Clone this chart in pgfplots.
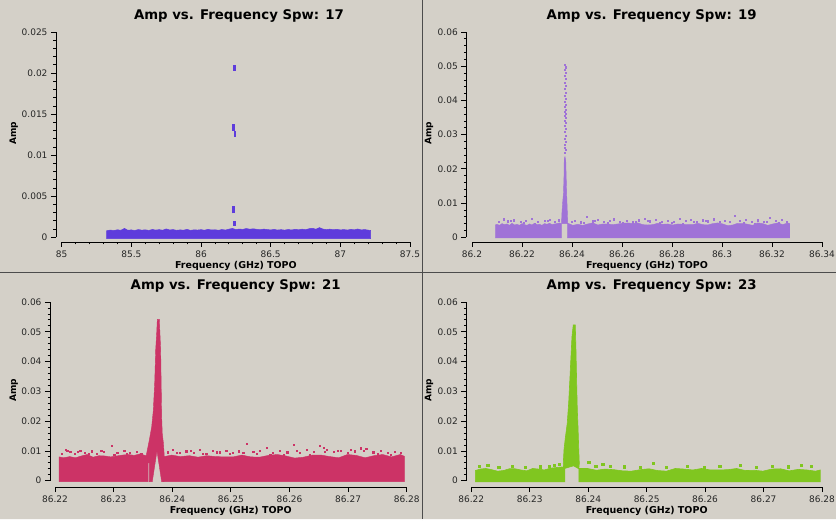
\documentclass[border=0pt]{standalone}
\usepackage{fontspec}
\setmainfont{DejaVu Sans}
\usepackage{pgfplots}
\pgfplotsset{compat=1.18}
\definecolor{bg}{RGB}{212,208,200}
\definecolor{cA}{RGB}{94,60,220}
\definecolor{cB}{RGB}{160,115,215}
\definecolor{cC}{RGB}{204,51,102}
\definecolor{cD}{RGB}{128,198,32}
\pgfplotsset{
  spw/.style={
    scale only axis, clip=false,
    axis x line=bottom, axis y line=left,
    axis line style={-, black, line width=0.8pt},
    tick style={black, line width=0.8pt},
    tick align=outside,
    major tick length=5pt, minor tick length=2.5pt,
    scaled ticks=false,
    /pgf/number format/assume math mode=true,
    /pgf/number format/fixed,
    /pgf/number format/precision=3,
    tick label style={font=\fontsize{9}{10}\selectfont, text=black!85},
    minor y tick num=4,
  },
  narrow/.style={
    x coord trafo/.code={\pgfmathparse{(##1-86.2)*1000}},
    xmin=86.22, xmax=86.28,
    xtick={86.22,86.23,86.24,86.25,86.26,86.27,86.28},
    xticklabels={86.22,86.23,86.24,86.25,86.26,86.27,86.28},
    minor x tick num=4,
    ymin=0, ymax=0.06,
    ytick={0,0.01,0.02,0.03,0.04,0.05,0.06},
    yticklabels={0,0.01,0.02,0.03,0.04,0.05,0.06},
  },
}
\begin{document}
\begin{tikzpicture}[x=1pt,y=1pt]
\useasboundingbox (0pt,0pt) rectangle (836pt,520pt);
\fill[bg] (0pt,0pt) rectangle (836pt,520pt);
\draw[black!70, line width=1.5pt] (422.5pt,0pt) -- (422.5pt,520pt);
\draw[black!70, line width=1.5pt] (0pt,247.5pt) -- (836pt,247.5pt);
\draw[white!85!bg, line width=1pt] (0pt,1pt) -- (836pt,1pt);

% ---------------- Panel 1 : Spw 17
\begin{axis}[spw, at={(61.7pt,282.7pt)}, anchor=south west,
  width=348.3pt, height=205.3pt,
  x coord trafo/.code={\pgfmathparse{(#1-85)*100}},
  xmin=85, xmax=87.5, ymin=0, ymax=0.025,
  axis x line shift=4.7pt, axis y line shift=5.7pt,
  xtick={85,85.5,86,86.5,87,87.5}, xticklabels={85,85.5,86,86.5,87,87.5},
  minor x tick num=4,
  ytick={0,0.005,0.01,0.015,0.02,0.025}, yticklabels={0,0.005,0.01,0.015,0.02,0.025}]
\addplot[fill=cA, draw=cA, line width=0.5pt] coordinates {
(85.323,-0.00015) (85.323,0.00080) (85.35,0.00088) (85.375,0.00082) (85.40,0.00092) (85.425,0.00085) (85.45,0.00108) (85.475,0.00086) (85.50,0.00090) (85.525,0.00083) (85.55,0.00094) (85.575,0.00087) (85.60,0.00091) (85.625,0.00084) (85.65,0.00095) (85.675,0.00088) (85.70,0.00093) (85.725,0.00086) (85.75,0.00102) (85.775,0.00089) (85.80,0.00094) (85.825,0.00085) (85.85,0.00090) (85.875,0.00087) (85.90,0.00096) (85.925,0.00084) (85.95,0.00091) (85.975,0.00088) (86.00,0.00093) (86.025,0.00086) (86.05,0.00097) (86.075,0.00089) (86.10,0.00092) (86.125,0.00085) (86.15,0.00095) (86.175,0.00088) (86.20,0.00099) (86.225,0.00108) (86.25,0.00094) (86.275,0.00101) (86.30,0.00096) (86.325,0.00107) (86.35,0.00098) (86.375,0.00104) (86.40,0.00097) (86.425,0.00092) (86.45,0.00100) (86.475,0.00094) (86.50,0.00090) (86.525,0.00096) (86.55,0.00088) (86.575,0.00093) (86.60,0.00087) (86.625,0.00095) (86.65,0.00089) (86.675,0.00097) (86.70,0.00091) (86.725,0.00099) (86.75,0.00093) (86.775,0.00104) (86.80,0.00110) (86.825,0.00098) (86.85,0.00118) (86.875,0.00100) (86.90,0.00094) (86.925,0.00099) (86.95,0.00092) (86.975,0.00097) (87.00,0.00090) (87.025,0.00094) (87.05,0.00088) (87.075,0.00096) (87.10,0.00091) (87.125,0.00101) (87.15,0.00090) (87.175,0.00094) (87.20,0.00087) (87.218,0.00083) (87.218,-0.00015)} -- cycle;
\addplot[cA, line width=2.6pt] coordinates {(86.2390,0.0203) (86.2390,0.0210)};
\addplot[cA, line width=2.6pt] coordinates {(86.2315,0.0130) (86.2315,0.01376)};
\addplot[cA, line width=2.6pt] coordinates {(86.2437,0.01225) (86.2437,0.0130)};
\addplot[cA, line width=2.6pt] coordinates {(86.2340,0.00292) (86.2340,0.00385)};
\addplot[cA, line width=2.6pt] coordinates {(86.2410,0.00138) (86.2410,0.00202)};
\end{axis}

% ---------------- Panel 2 : Spw 19
\begin{axis}[spw, at={(472pt,282.7pt)}, anchor=south west,
  width=350pt, height=205.3pt,
  x coord trafo/.code={\pgfmathparse{(#1-86.2)*1000}},
  xmin=86.2, xmax=86.34, ymin=0, ymax=0.06,
  axis x line shift=4.7pt, axis y line shift=5.7pt,
  xtick={86.2,86.22,86.24,86.26,86.28,86.3,86.32,86.34},
  xticklabels={86.2,86.22,86.24,86.26,86.28,86.3,86.32,86.34},
  minor x tick num=3,
  ytick={0,0.01,0.02,0.03,0.04,0.05,0.06},
  yticklabels={0,0.01,0.02,0.03,0.04,0.05,0.06}]
\addplot[fill=cB, draw=cB, line width=0.4pt] coordinates {
(86.2093,-0.0002) (86.2093,0.0036) (86.2100,0.0038) (86.2110,0.0035) (86.2120,0.0040) (86.2130,0.0037) (86.2140,0.0039) (86.2150,0.0035) (86.2160,0.0041) (86.2170,0.0036) (86.2180,0.0038) (86.2190,0.0035) (86.2200,0.0040) (86.2210,0.0037) (86.2220,0.0035) (86.2230,0.0039) (86.2240,0.0036) (86.2250,0.0041) (86.2260,0.0037) (86.2270,0.0038) (86.2280,0.0035) (86.2290,0.0040) (86.2300,0.0038) (86.2310,0.0041) (86.2320,0.0037) (86.2330,0.0039) (86.2340,0.0040) (86.2350,0.0042) (86.2358,0.0040) (86.2358,-0.0002)} -- cycle;
\addplot[fill=cB, draw=cB, line width=0.4pt] coordinates {
(86.2381,-0.0002) (86.2381,0.0042) (86.2403,0.0035) (86.2423,0.0038) (86.2443,0.0035) (86.2463,0.0039) (86.2483,0.0042) (86.2503,0.0036) (86.2523,0.0039) (86.2543,0.0039) (86.2563,0.0037) (86.2583,0.0039) (86.2603,0.0041) (86.2623,0.0042) (86.2643,0.0040) (86.2663,0.0042) (86.2683,0.0037) (86.2703,0.0036) (86.2723,0.0037) (86.2743,0.0041) (86.2763,0.0038) (86.2783,0.0039) (86.2803,0.0036) (86.2823,0.0039) (86.2843,0.0038) (86.2863,0.0037) (86.2883,0.0037) (86.2903,0.0041) (86.2923,0.0037) (86.2943,0.0036) (86.2963,0.0040) (86.2983,0.0042) (86.3003,0.0039) (86.3023,0.0034) (86.3043,0.0036) (86.3063,0.0041) (86.3083,0.0041) (86.3103,0.0038) (86.3123,0.0035) (86.3143,0.0042) (86.3163,0.0040) (86.3183,0.0035) (86.3203,0.0039) (86.3223,0.0042) (86.3243,0.0037) (86.3263,0.0042) (86.3271,0.0040) (86.3271,-0.0002)} -- cycle;
\addplot[fill=cB, draw=cB, line width=0.4pt] coordinates {
(86.2358,0.0040) (86.2360,0.0075) (86.2363,0.0105) (86.2366,0.0130) (86.2368,0.0180) (86.2369,0.0230) (86.2372,0.0236) (86.2375,0.0225) (86.2377,0.0170) (86.2379,0.0120) (86.2381,0.0080) (86.2383,0.0040)} -- cycle;
\addplot[only marks, mark=square*, mark size=0.55pt, color=cB] coordinates {
(86.2125,0.0053) (86.2142,0.0047) (86.2168,0.0050) (86.2195,0.0045) (86.2214,0.0049) (86.2238,0.0055) (86.2262,0.0046) (86.2289,0.0048) (86.2312,0.0052) (86.2331,0.0046) (86.2345,0.0050) (86.2412,0.0048) (86.2436,0.0044) (86.2458,0.0059) (86.2481,0.0047) (86.2503,0.0051) (86.2527,0.0045) (86.2549,0.0049) (86.2566,0.0053) (86.2592,0.0046) (86.2618,0.0048) (86.2641,0.0044) (86.2667,0.0050) (86.2689,0.0054) (86.2712,0.0047) (86.2736,0.0052) (86.2758,0.0045) (86.2781,0.0049) (86.2805,0.0046) (86.2829,0.0055) (86.2853,0.0048) (86.2876,0.0051) (86.2898,0.0045) (86.2921,0.0050) (86.2944,0.0047) (86.2968,0.0053) (86.2990,0.0046) (86.3012,0.0049) (86.3049,0.0062) (86.3071,0.0048) (86.3094,0.0051) (86.3118,0.0045) (86.3141,0.0050) (86.3166,0.0046) (86.3190,0.0057) (86.3214,0.0048) (86.3238,0.0052) (86.3259,0.0045)
(86.2105,0.00445) (86.2156,0.00472) (86.2205,0.00418) (86.2251,0.00400) (86.2302,0.00481) (86.2398,0.00463) (86.2447,0.00436) (86.2492,0.00481) (86.2541,0.00436) (86.2603,0.00436) (86.2655,0.00445) (86.2701,0.00481) (86.2749,0.00418) (86.2797,0.00427) (86.2842,0.00400) (86.2887,0.00463) (86.2933,0.00472) (86.2981,0.00409) (86.3031,0.00454) (86.3085,0.00436) (86.3130,0.00400) (86.3178,0.00454) (86.3226,0.00418)
(86.2372,0.0505) (86.2373,0.0497) (86.2371,0.0489) (86.2374,0.0480) (86.2372,0.0471) (86.2373,0.0463) (86.2371,0.0452) (86.2374,0.0444) (86.2372,0.0433) (86.2373,0.0422) (86.2371,0.0414) (86.2373,0.0405) (86.2372,0.0396) (86.2374,0.0388) (86.2371,0.0381) (86.2373,0.0374) (86.2372,0.0368) (86.2374,0.0361) (86.2371,0.0355) (86.2373,0.0349) (86.2372,0.0342) (86.2374,0.0335) (86.2371,0.0327) (86.2373,0.0318) (86.2372,0.0309) (86.2374,0.0298) (86.2371,0.0289) (86.2373,0.0280) (86.2372,0.0271) (86.2370,0.0262) (86.2375,0.0255) (86.2372,0.0247)};
\end{axis}

% ---------------- Panel 3 : Spw 21
\begin{axis}[spw, narrow, at={(55pt,39.3pt)}, anchor=south west,
  width=351.7pt, height=178.7pt,
  axis x line shift=6.5pt, axis y line shift=5pt]
\addplot[fill=cC, draw=cC, line width=0.4pt] coordinates {
(86.2207,-0.0003) (86.2207,0.0080) (86.2215,0.0077) (86.2225,0.0081) (86.2235,0.0077) (86.2245,0.0083) (86.2255,0.0088) (86.2265,0.0079) (86.2275,0.0084) (86.2285,0.0083) (86.2295,0.0080) (86.2305,0.0083) (86.2315,0.0086) (86.2325,0.0088) (86.2335,0.0085) (86.2345,0.0090) (86.2352,0.0086) (86.2359,0.0082) (86.2359,-0.0003)} -- cycle;
\addplot[fill=cC, draw=cC, line width=0.4pt] coordinates {
(86.2384,-0.0003) (86.2384,0.0080) (86.2399,0.0086) (86.2414,0.0081) (86.2429,0.0084) (86.2444,0.0079) (86.2459,0.0084) (86.2474,0.0081) (86.2489,0.0080) (86.2504,0.0080) (86.2519,0.0086) (86.2534,0.0080) (86.2549,0.0079) (86.2564,0.0085) (86.2579,0.0088) (86.2594,0.0083) (86.2609,0.0076) (86.2624,0.0079) (86.2639,0.0086) (86.2654,0.0086) (86.2669,0.0081) (86.2684,0.0077) (86.2699,0.0088) (86.2714,0.0085) (86.2729,0.0077) (86.2744,0.0084) (86.2759,0.0088) (86.2774,0.0080) (86.2789,0.0088) (86.2796,0.0082) (86.2796,-0.0003)} -- cycle;
\addplot[fill=cC, draw=cC, line width=0.4pt] coordinates {
(86.2352,0.0060) (86.23553,0.0080) (86.23575,0.0103) (86.2361,0.0137) (86.2365,0.0181) (86.23678,0.0237) (86.23701,0.0327) (86.23718,0.0439) (86.23735,0.0495) (86.23746,0.0542) (86.2378,0.0542) (86.23803,0.0439) (86.23814,0.0293) (86.2382,0.0215) (86.2383,0.0159) (86.2385,0.0126) (86.23865,0.0081) (86.2388,0.0060) (86.2386,-0.0003) (86.2382,-0.0003) (86.2374,0.0100) (86.2366,-0.0003) (86.2361,-0.0003) (86.2361,0.0060)} -- cycle;
\addplot[only marks, mark=square*, mark size=0.6pt, color=cC] coordinates {
(86.2212,0.0092) (86.2218,0.0104) (86.2226,0.0098) (86.2234,0.0091) (86.2243,0.0101) (86.2251,0.0094) (86.2262,0.0099) (86.2271,0.0092) (86.2283,0.0097) (86.2297,0.0118) (86.2306,0.0095) (86.2318,0.0100) (86.2327,0.0093) (86.2339,0.0098) (86.2347,0.0092) (86.2392,0.0096) (86.2401,0.0103) (86.2413,0.0093) (86.2424,0.0099) (86.2436,0.0095) (86.2447,0.0104) (86.2458,0.0092) (86.2469,0.0100) (86.2481,0.0096) (86.2492,0.0102) (86.2503,0.0093) (86.2514,0.0099) (86.2527,0.0123) (86.2538,0.0097) (86.2549,0.0101) (86.2561,0.0110) (86.2572,0.0094) (86.2584,0.0100) (86.2596,0.0096) (86.2607,0.0122) (86.2618,0.0095) (86.2629,0.0103) (86.2641,0.0098) (86.2652,0.0118) (86.2658,0.0112) (86.2664,0.0104) (86.2676,0.0097) (86.2688,0.0101) (86.2699,0.0094) (86.2711,0.0099) (86.2722,0.0109) (86.2731,0.0107) (86.2743,0.0096) (86.2756,0.0100) (86.2768,0.0093) (86.2779,0.0098) (86.2790,0.0095)
(86.2221,0.0102) (86.2239,0.0098) (86.2258,0.0090) (86.2279,0.0102) (86.2301,0.0086) (86.2322,0.0092) (86.2407,0.0094) (86.2431,0.0102) (86.2452,0.0090) (86.2476,0.0096) (86.2498,0.0092) (86.2521,0.0094) (86.2544,0.0090) (86.2567,0.0088) (86.2590,0.0088) (86.2612,0.0100) (86.2635,0.0086) (86.2660,0.0098) (86.2682,0.0100) (86.2705,0.0104) (86.2727,0.0102) (86.2750,0.0090) (86.2773,0.0088)};
\end{axis}

% ---------------- Panel 4 : Spw 23
\begin{axis}[spw, narrow, at={(471.3pt,39.3pt)}, anchor=south west,
  width=350.7pt, height=178.7pt,
  axis x line shift=6.5pt, axis y line shift=5pt]
\addplot[fill=cD, draw=cD, line width=0.6pt] coordinates {
(86.2207,-0.0004) (86.2207,0.0034) (86.2215,0.0039) (86.2225,0.0041) (86.2235,0.0037) (86.2245,0.0032) (86.2255,0.0034) (86.2265,0.0040) (86.2275,0.0040) (86.2285,0.0036) (86.2295,0.0033) (86.2305,0.0041) (86.2315,0.0039) (86.2325,0.0036) (86.2335,0.0042) (86.2345,0.0044) (86.2355,0.0046) (86.2360,0.0045) (86.2360,-0.0004)} -- cycle;
\addplot[fill=cD, draw=cD, line width=0.6pt] coordinates {
(86.2384,-0.0004) (86.2384,0.0041) (86.2399,0.0041) (86.2414,0.0035) (86.2429,0.0039) (86.2444,0.0037) (86.2459,0.0033) (86.2474,0.0032) (86.2489,0.0037) (86.2504,0.0040) (86.2519,0.0034) (86.2534,0.0032) (86.2549,0.0041) (86.2564,0.0039) (86.2579,0.0036) (86.2594,0.0041) (86.2609,0.0036) (86.2624,0.0036) (86.2639,0.0037) (86.2654,0.0041) (86.2669,0.0034) (86.2684,0.0035) (86.2699,0.0032) (86.2714,0.0039) (86.2729,0.0040) (86.2744,0.0033) (86.2759,0.0038) (86.2774,0.0036) (86.2789,0.0032) (86.2797,0.0036) (86.2797,-0.0004)} -- cycle;
\addplot[fill=cD, draw=cD, line width=0.6pt] coordinates {
(86.2358,0.0040) (86.23574,0.0058) (86.23586,0.0103) (86.23608,0.0142) (86.23642,0.0193) (86.23666,0.0260) (86.23689,0.0349) (86.2370,0.0394) (86.23723,0.0484) (86.23745,0.0523) (86.23779,0.0523) (86.23791,0.0439) (86.23803,0.0327) (86.23814,0.0237) (86.23826,0.0181) (86.23837,0.0114) (86.23848,0.0058) (86.2384,0.0040) (86.2375,0.0050)} -- cycle;
\addplot[only marks, mark=square*, mark size=1.1pt, color=cD] coordinates {
(86.2213,0.0048) (86.2228,0.0052) (86.2247,0.0046) (86.2270,0.0049) (86.2292,0.0045) (86.2318,0.0047) (86.2333,0.0050) (86.2342,0.0053) (86.2350,0.0055) (86.2401,0.0062) (86.2413,0.0050) (86.2425,0.0055) (86.2437,0.0048) (86.2461,0.0047) (86.2489,0.0045) (86.2511,0.0058) (86.2533,0.0046) (86.2570,0.0048) (86.2598,0.0044) (86.2625,0.0049) (86.2660,0.0052) (86.2688,0.0046) (86.2715,0.0050) (86.2742,0.0047) (86.2765,0.0053) (86.2782,0.0049)};
\end{axis}

% titles and labels
\node[anchor=base, font=\bfseries\fontsize{13.3}{15}\selectfont] at (239pt,500pt) {Amp vs. Frequency Spw: 17};
\node[anchor=base, font=\bfseries\fontsize{13.3}{15}\selectfont] at (651.7pt,500pt) {Amp vs. Frequency Spw: 19};
\node[anchor=base, font=\bfseries\fontsize{13.3}{15}\selectfont] at (235.7pt,230.7pt) {Amp vs. Frequency Spw: 21};
\node[anchor=base, font=\bfseries\fontsize{13.3}{15}\selectfont] at (651.7pt,230.7pt) {Amp vs. Frequency Spw: 23};
\node[anchor=base, font=\bfseries\fontsize{9.5}{11}\selectfont] at (235.9pt,251.7pt) {Frequency (GHz) TOPO};
\node[anchor=base, font=\bfseries\fontsize{9.5}{11}\selectfont] at (647pt,251.7pt) {Frequency (GHz) TOPO};
\node[anchor=base, font=\bfseries\fontsize{9.5}{11}\selectfont] at (230.8pt,6.7pt) {Frequency (GHz) TOPO};
\node[anchor=base, font=\bfseries\fontsize{9.5}{11}\selectfont] at (646.7pt,6.7pt) {Frequency (GHz) TOPO};
\node[rotate=90, font=\bfseries\fontsize{9}{10}\selectfont] at (13.7pt,387pt) {Amp};
\node[rotate=90, font=\bfseries\fontsize{9}{10}\selectfont] at (429pt,387pt) {Amp};
\node[rotate=90, font=\bfseries\fontsize{9}{10}\selectfont] at (13.7pt,130pt) {Amp};
\node[rotate=90, font=\bfseries\fontsize{9}{10}\selectfont] at (429pt,130pt) {Amp};
\end{tikzpicture}
\end{document}
